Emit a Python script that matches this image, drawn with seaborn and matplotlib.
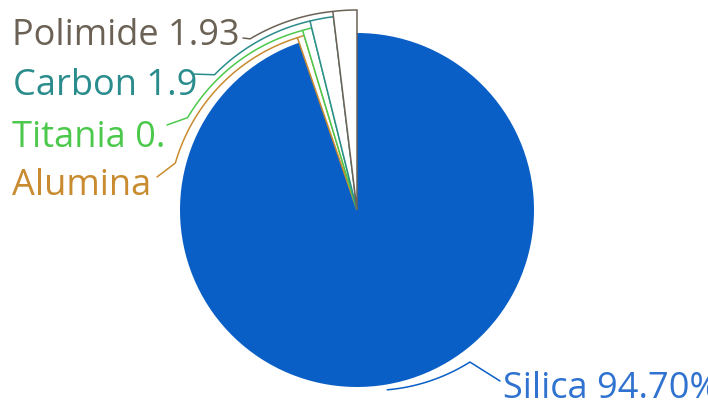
import numpy as np
import seaborn as sns
import matplotlib.pyplot as plt

# valori (quota %)
materiali = ["Silica", "Alumina", "Titania", "Carbon", "Polimide"]
quote = [94.70, 0.62, 0.80, 1.95, 1.93]
etichette = ["Silica 94.70%", "Alumina", "Titania 0.", "Carbon 1.9", "Polimide 1.93"]
colori = ["#0a5fc6", "#c98b2f", "#4cc94c", "#2a8c8c", "#6b6255"]
colori_testo = ["#2f72d0", "#c98b2f", "#4cc94c", "#2a8c8c", "#6b6255"]

sns.set_theme(style="white")
plt.rcParams["font.family"] = ["Open Sans", "DejaVu Sans"]

fig = plt.figure(figsize=(7.08, 4.09), dpi=100)
ax = fig.add_axes([0, 0, 1, 1])

cx, cy, R = 357, 210, 177
wedges, _ = ax.pie(quote, colors=colori, startangle=-90, counterclock=True,
                   center=(cx, cy), radius=R, wedgeprops=dict(linewidth=0))

ax.set_xlim(0, 708)
ax.set_ylim(409, 0)
ax.set_aspect("equal")
ax.axis("off")

# fette piccole: solo contorno, leggermente ingrandite
fattori = {"Alumina": 1.03, "Titania": 1.06, "Carbon": 1.10, "Polimide": 1.13}
for w, nome, col in zip(wedges, materiali, colori):
    if nome in fattori:
        w.set_radius(R * fattori[nome])
        w.set_facecolor("white")
        w.set_edgecolor(col)
        w.set_linewidth(1.1)
        w.set_zorder(3 + fattori[nome])

# linee guida: arco attorno alla torta + tratto verso l'etichetta
guide = {
    "Silica":   (None, 53.4, 1.03, 1.07, (500, 381)),
    "Alumina":  ("t1", 194.5, 1.03, 1.06, (157, 177)),
    "Titania":  ("t1", 208.6, 1.06, 1.09, (167, 125)),
    "Carbon":   ("t1", 223.5, 1.10, 1.11, (192, 74)),
    "Polimide": ("t1", 238.0, 1.13, 1.14, (243, 38)),
}
for w, nome, col in zip(wedges, materiali, colori):
    start, fine, f0, f1, punto = guide[nome]
    t0 = w.theta1 if start == "t1" else (w.theta1 + w.theta2) / 2
    th = np.radians(np.linspace(t0, fine, 80))
    rr = R * np.linspace(f0, f1, 80)
    xs = list(cx + rr * np.cos(th)) + [punto[0]]
    ys = list(cy + rr * np.sin(th)) + [punto[1]]
    ax.plot(xs, ys, color=col, lw=1.1, zorder=10, solid_capstyle="round")

# etichette (quella di Silica esce dal bordo destro come nell'originale)
posizioni = {"Silica": (503, 398), "Alumina": (12, 195), "Titania": (12, 147),
             "Carbon": (13, 95), "Polimide": (12, 45)}
for nome, testo, col in zip(materiali, etichette, colori_testo):
    x, y = posizioni[nome]
    ax.text(x, y, testo, color=col, fontsize=26, ha="left", va="baseline", zorder=11)

plt.savefig("out.png", dpi=100)
